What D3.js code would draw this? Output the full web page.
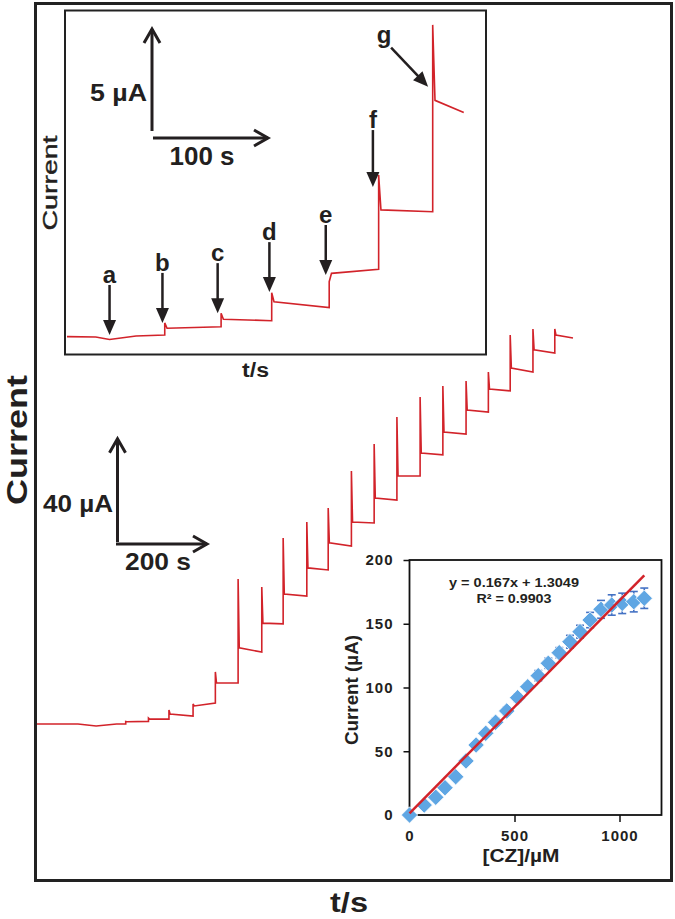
<!DOCTYPE html>
<html>
<head>
<meta charset="utf-8">
<script src="https://cdn.jsdelivr.net/npm/d3@7"></script>
<style>
  body { margin: 0; background: #fff; }
  svg { display: block; font-family: "Liberation Sans", Arial, sans-serif; }
</style>
</head>
<body>
<svg id="chart" width="675" height="919"></svg>
<script>
// main amperometric trace, time in s and current in uA
var mainStepTime = [195, 245, 290, 343, 392, 442, 494, 541, 593, 640, 691, 741, 791, 842, 892, 943, 992, 1040, 1090, 1138];
var mainSpike = [1.0, 2.3, 5.4, 7.8, 20.2, 56.2, 53.1, 72.1, 78.3, 83.7, 98.1, 108.5, 119.0, 126.7, 131.0, 132.9, 136.4, 150.8, 153.1, 153.1];
var mainLevelStart = [0.9, 1.9, 3.9, 7.0, 15.9, 29.5, 39.1, 50.4, 60.5, 70.2, 78.3, 87.6, 96.1, 105.0, 113.2, 121.7, 129.8, 138.0, 145.0, 150.8];
var mainLevelEnd = [1.0, 1.9, 3.1, 8.1, 15.9, 27.9, 38.8, 49.6, 59.7, 69.0, 77.9, 86.8, 96.1, 104.3, 112.4, 120.9, 129.1, 136.4, 143.8, 149.6];
var mainBaseline = [[0, 0], [90, 0], [130, -0.8], [175, 0]];
var mainEndTime = 1178;

// upper inset (first additions a..g)
var insetStepTime = [85, 134, 178, 228, 271, 318];
var insetSpike = [0.69, 1.16, 2.17, 2.71, 7.94, 15.3];
var insetLevelStart = [0.43, 0.87, 1.73, 3.12, 6.23, 11.6];
var insetLevelEnd = [0.5, 0.8, 1.44, 3.32, 6.14, 11.0];
var insetBaseline = [[0, 0.02], [25, 0], [37, -0.12], [60, 0.05], [85, 0.1]];
var insetEndTime = 345;

var arrowLabels = ["a", "b", "c", "d", "e", "f"];
var arrowTime = [37, 83, 131, 176, 225, 266];
var arrowTip = [0.1, 0.69, 1.17, 2.2, 3.04, 7.35];
var gArrowTime = 314;
var gArrowTip = 12.27;

// calibration inset
var calibConc = [0, 70, 125, 169, 220, 269, 317, 363, 410, 463, 515, 563, 613, 661, 713, 764, 812, 860, 912, 963, 1013, 1068, 1118];
var calibCurrent = [0, 7.8, 13.9, 21.4, 30.0, 42.4, 54.9, 64.1, 72.7, 81.6, 92.0, 100.6, 109.3, 119.0, 127.3, 135.9, 143.8, 152.9, 161.3, 164.7, 166.0, 167.3, 170.0];
var calibError = [2, 2, 2, 2, 2, 2, 2, 2, 3, 3, 3, 3, 4, 4, 4, 5, 5, 6, 7, 8, 8, 8, 8];
var calibYTicks = [0, 50, 100, 150, 200];
var calibXTicks = [0, 500, 1000];
var fitSlope = 0.167;
var fitIntercept = 1.3049;
var fitRange = [0, 1118];

var red = "#d2232a";
var ink = "#231f20";

var svg = d3.select("#chart");

// outer frame
svg.append("rect")
  .attr("x", 35.5).attr("y", 3.5).attr("width", 636).attr("height", 877)
  .attr("fill", "none").attr("stroke", "#222").attr("stroke-width", 3);

svg.append("text")
  .attr("transform", "translate(27,440) rotate(-90)")
  .attr("text-anchor", "middle")
  .attr("font-size", 30).attr("font-weight", "bold").attr("fill", ink)
  .attr("textLength", 130).attr("lengthAdjust", "spacingAndGlyphs")
  .text("Current");

svg.append("text")
  .attr("x", 349).attr("y", 912)
  .attr("text-anchor", "middle")
  .attr("font-size", 27).attr("font-weight", "bold").attr("fill", ink)
  .attr("textLength", 38).attr("lengthAdjust", "spacingAndGlyphs")
  .text("t/s");

// builds the points of a step trace from its arrays
function stepPoints(baseline, times, spikes, starts, ends, endTime, settle) {
  var pts = baseline.slice();
  for (var i = 0; i < times.length; i++) {
    var prev = i == 0 ? baseline[baseline.length - 1][1] : ends[i - 1];
    var next = i < times.length - 1 ? times[i + 1] : endTime;
    pts.push([times[i], prev]);
    pts.push([times[i], spikes[i]]);
    pts.push([times[i] + settle, starts[i]]);
    pts.push([next, ends[i]]);
  }
  return pts;
}

// open arrow used for the scale bars
function chevron(g, x, y, dir) {
  var p = dir == "up"
    ? [[x - 8, y + 14], [x, y], [x + 8, y + 14]]
    : [[x - 14, y - 8], [x, y], [x - 14, y + 8]];
  g.append("path").attr("d", d3.line()(p))
    .attr("fill", "none").attr("stroke", ink).attr("stroke-width", 3);
}

/////////////
// main trace
/////////////
var xMain = d3.scaleLinear().domain([0, 1200]).range([37, 583]);
var yMain = d3.scaleLinear().domain([0, 150]).range([724, 337]);

var mainLine = d3.line()
  .x(function(d) { return xMain(d[0]); })
  .y(function(d) { return yMain(d[1]); });

svg.append("path")
  .attr("d", mainLine(stepPoints(mainBaseline, mainStepTime, mainSpike, mainLevelStart, mainLevelEnd, mainEndTime, 2.5)))
  .attr("fill", "none").attr("stroke", red).attr("stroke-width", 1.6);

// scale bar 40 uA / 200 s
var bar = svg.append("g");
var bx = 117.5, by = 542;
bar.append("line").attr("x1", bx).attr("x2", bx)
  .attr("y1", by).attr("y2", by - (yMain(0) - yMain(40)))
  .attr("stroke", ink).attr("stroke-width", 3);
chevron(bar, bx, by - (yMain(0) - yMain(40)), "up");
bar.append("line").attr("x1", bx - 1.5).attr("x2", bx - 1.5 + xMain(200) - xMain(0))
  .attr("y1", by + 2).attr("y2", by + 2)
  .attr("stroke", ink).attr("stroke-width", 3);
chevron(bar, bx - 1.5 + xMain(200) - xMain(0), by + 2, "right");
bar.append("text").attr("x", 113).attr("y", 512).attr("text-anchor", "end")
  .attr("font-size", 24).attr("font-weight", "bold").attr("fill", ink)
  .attr("textLength", 70).attr("lengthAdjust", "spacingAndGlyphs")
  .text("40 \u00b5A");
bar.append("text").attr("x", 158).attr("y", 570).attr("text-anchor", "middle")
  .attr("font-size", 24).attr("font-weight", "bold").attr("fill", ink)
  .attr("textLength", 66).attr("lengthAdjust", "spacingAndGlyphs")
  .text("200 s");

/////////////
// upper inset
/////////////
var inset = svg.append("g");
inset.append("rect")
  .attr("x", 65).attr("y", 10.5).attr("width", 421).attr("height", 344)
  .attr("fill", "none").attr("stroke", "#222").attr("stroke-width", 2);

var xIn = d3.scaleLinear().domain([0, 345]).range([67, 463.75]);
var yIn = d3.scaleLinear().domain([0, 15]).range([337, 31]);

var insetLine = d3.line()
  .x(function(d) { return xIn(d[0]); })
  .y(function(d) { return yIn(d[1]); });

inset.append("path")
  .attr("d", insetLine(stepPoints(insetBaseline, insetStepTime, insetSpike, insetLevelStart, insetLevelEnd, insetEndTime, 2)))
  .attr("fill", "none").attr("stroke", red).attr("stroke-width", 1.6);

inset.append("text")
  .attr("transform", "translate(57,183) rotate(-90)")
  .attr("text-anchor", "middle")
  .attr("font-size", 20).attr("fill", ink)
  .attr("stroke", ink).attr("stroke-width", 0.4)
  .attr("textLength", 95).attr("lengthAdjust", "spacingAndGlyphs")
  .text("Current");
inset.append("text").attr("x", 255.5).attr("y", 377).attr("text-anchor", "middle")
  .attr("font-size", 20).attr("font-weight", "bold").attr("fill", ink)
  .attr("textLength", 27).attr("lengthAdjust", "spacingAndGlyphs")
  .text("t/s");

// scale bar 5 uA / 100 s
var ix = 152, iy = 131;
inset.append("line").attr("x1", ix).attr("x2", ix)
  .attr("y1", iy).attr("y2", iy - (yIn(0) - yIn(5)))
  .attr("stroke", ink).attr("stroke-width", 3);
chevron(inset, ix, iy - (yIn(0) - yIn(5)), "up");
inset.append("line").attr("x1", ix + 1).attr("x2", ix + 1 + xIn(100) - xIn(0))
  .attr("y1", iy + 7).attr("y2", iy + 7)
  .attr("stroke", ink).attr("stroke-width", 3);
chevron(inset, ix + 1 + xIn(100) - xIn(0), iy + 7, "right");
inset.append("text").attr("x", 147).attr("y", 101).attr("text-anchor", "end")
  .attr("font-size", 23).attr("font-weight", "bold").attr("fill", ink)
  .attr("textLength", 57).attr("lengthAdjust", "spacingAndGlyphs")
  .text("5 \u00b5A");
inset.append("text").attr("x", 202).attr("y", 165).attr("text-anchor", "middle")
  .attr("font-size", 25).attr("font-weight", "bold").attr("fill", ink)
  .attr("textLength", 65).attr("lengthAdjust", "spacingAndGlyphs")
  .text("100 s");

// addition arrows a..f
arrowLabels.forEach(function(lab, i) {
  var x = xIn(arrowTime[i]);
  var tip = yIn(arrowTip[i]);
  var len = lab == "f" ? 57 : 50;
  inset.append("line").attr("x1", x).attr("x2", x)
    .attr("y1", tip - len).attr("y2", tip - 12)
    .attr("stroke", ink).attr("stroke-width", 2.5);
  inset.append("path")
    .attr("d", d3.line()([[x - 6.5, tip - 15], [x + 6.5, tip - 15], [x, tip]]) + "Z")
    .attr("fill", ink);
  inset.append("text").attr("x", x).attr("y", tip - len - 2)
    .attr("text-anchor", "middle")
    .attr("font-size", 24).attr("font-weight", "bold").attr("fill", ink)
    .text(lab);
});

// arrow g
var gx = xIn(gArrowTime), gy = yIn(gArrowTip);
var gx0 = gx - 37, gy0 = gy - 39;
var ang = Math.atan2(gy - gy0, gx - gx0);
inset.append("line").attr("x1", gx0).attr("y1", gy0)
  .attr("x2", gx - 11 * Math.cos(ang)).attr("y2", gy - 11 * Math.sin(ang))
  .attr("stroke", ink).attr("stroke-width", 2.5);
inset.append("path")
  .attr("d", d3.line()([[0, 0], [-15, -6.5], [-15, 6.5]]) + "Z")
  .attr("transform", "translate(" + gx + "," + gy + ") rotate(" + (ang * 180 / Math.PI) + ")")
  .attr("fill", ink);
inset.append("text").attr("x", gx0 - 7).attr("y", gy0 - 5)
  .attr("text-anchor", "middle")
  .attr("font-size", 24).attr("font-weight", "bold").attr("fill", ink)
  .text("g");

/////////////
// calibration inset
/////////////
var cal = svg.append("g");
var xCal = d3.scaleLinear().domain([0, 1200]).range([409.5, 661.5]);
var yCal = d3.scaleLinear().domain([0, 200]).range([815, 560]);

cal.append("rect")
  .attr("x", xCal(0)).attr("y", yCal(200))
  .attr("width", xCal(1200) - xCal(0)).attr("height", yCal(0) - yCal(200))
  .attr("fill", "#fff").attr("stroke", "#111").attr("stroke-width", 1.8);

var yAxis = cal.append("g")
  .attr("transform", "translate(" + xCal(0) + ",0)")
  .call(d3.axisLeft(yCal).tickValues(calibYTicks).tickFormat(d3.format("d")).tickSize(6).tickPadding(10));
var xAxis = cal.append("g")
  .attr("transform", "translate(0," + yCal(0) + ")")
  .call(d3.axisBottom(xCal).tickValues(calibXTicks).tickFormat(d3.format("d")).tickSize(7).tickPadding(8));
[yAxis, xAxis].forEach(function(ax) {
  ax.select(".domain").remove();
  ax.selectAll("line").attr("stroke", "#111").attr("stroke-width", 1.5);
  ax.selectAll("text")
    .attr("font-family", "Liberation Sans, Arial, sans-serif")
    .attr("font-size", 15).attr("font-weight", "bold")
    .attr("letter-spacing", 1).attr("fill", ink);
});

cal.append("text")
  .attr("transform", "translate(358,690) rotate(-90)")
  .attr("text-anchor", "middle")
  .attr("font-size", 18).attr("font-weight", "bold").attr("fill", ink)
  .attr("textLength", 110).attr("lengthAdjust", "spacingAndGlyphs")
  .text("Current (\u00b5A)");
cal.append("text").attr("x", 521).attr("y", 862).attr("text-anchor", "middle")
  .attr("font-size", 19).attr("font-weight", "bold").attr("fill", ink)
  .attr("textLength", 77).attr("lengthAdjust", "spacingAndGlyphs")
  .text("[CZ]/\u00b5M");

// error bars
var err = cal.append("g").attr("stroke", "#4472c4").attr("stroke-width", 1.6);
calibConc.forEach(function(c, i) {
  var x = xCal(c);
  var y1 = yCal(calibCurrent[i] + calibError[i]);
  var y2 = yCal(calibCurrent[i] - calibError[i]);
  err.append("line").attr("x1", x).attr("x2", x).attr("y1", y1).attr("y2", y2);
  err.append("line").attr("x1", x - 4).attr("x2", x + 4).attr("y1", y1).attr("y2", y1);
  err.append("line").attr("x1", x - 4).attr("x2", x + 4).attr("y1", y2).attr("y2", y2);
});

// diamonds
cal.selectAll("path.pt")
  .data(calibConc)
  .enter().append("path")
  .attr("class", "pt")
  .attr("d", d3.symbol().type(d3.symbolSquare).size(135))
  .attr("transform", function(d, i) {
    return "translate(" + xCal(d) + "," + yCal(calibCurrent[i]) + ") rotate(45)";
  })
  .attr("fill", "#5fa6e3").attr("stroke", "#fff").attr("stroke-width", 0.8);

// linear fit
cal.append("path")
  .attr("d", d3.line()
    .x(function(d) { return xCal(d); })
    .y(function(d) { return yCal(fitSlope * d + fitIntercept); })(fitRange))
  .attr("stroke", red).attr("stroke-width", 2.5).attr("fill", "none");

cal.append("text").attr("x", 514).attr("y", 587).attr("text-anchor", "middle")
  .attr("font-size", 12.5).attr("font-weight", "bold").attr("fill", ink)
  .attr("textLength", 130).attr("lengthAdjust", "spacingAndGlyphs")
  .text("y = " + fitSlope + "x + " + fitIntercept);
cal.append("text").attr("x", 514).attr("y", 603).attr("text-anchor", "middle")
  .attr("font-size", 12.5).attr("font-weight", "bold").attr("fill", ink)
  .attr("textLength", 75).attr("lengthAdjust", "spacingAndGlyphs")
  .text("R\u00b2 = 0.9903");
</script>
</body>
</html>
